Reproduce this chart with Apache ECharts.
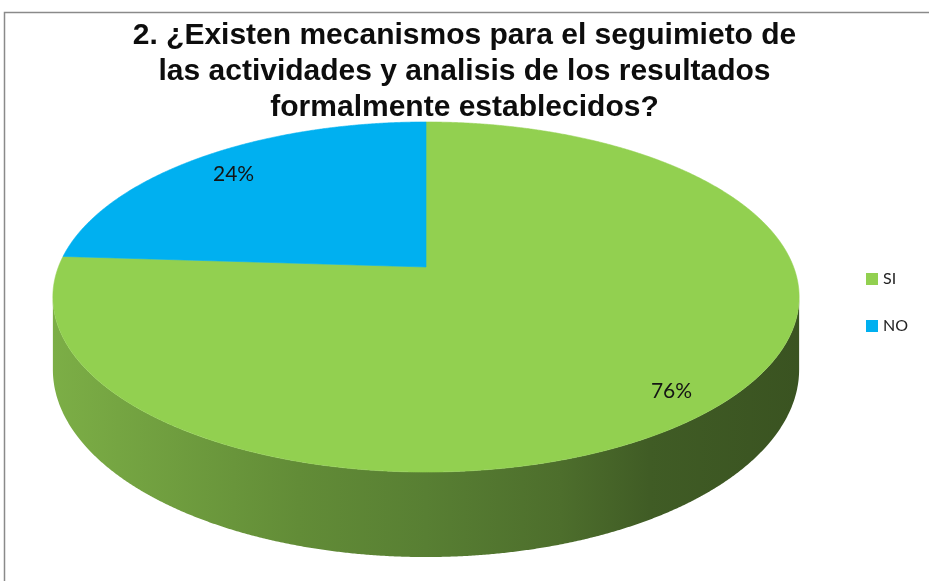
<!DOCTYPE html>
<html>
<head>
<meta charset="utf-8">
<script src="https://cdn.jsdelivr.net/npm/echarts@6/dist/echarts.min.js"></script>
<style>
html,body{margin:0;padding:0;background:#fff;}
#chart{width:929px;height:581px;}
</style>
</head>
<body>
<div id="chart"></div>
<script>
// ---- data ----
const categories = ['SI', 'NO'];
const values = [76, 24];
const titleLines = [
  '2. ¿Existen mecanismos para el seguimieto de',
  'las actividades y analisis de los resultados',
  'formalmente establecidos?'
];

// ---- style ----
const topColors = ['#92d050', '#00b0f0'];
const sideStops = [
  [{offset:0, color:'#7cae46'},{offset:0.33, color:'#628c37'},{offset:0.5, color:'#587f33'},
   {offset:0.68, color:'#4d6e2c'},{offset:0.8, color:'#405c25'},{offset:1, color:'#3a5321'}],
  [{offset:0, color:'#0090c8'},{offset:1, color:'#005a80'}]
];
const G = {cx:426, cy:267, A:367.6, B:169.9, k:0.1715, H:70.4};

const total = values.reduce((a,b)=>a+b,0);
const cumStart = values.map((v,i)=>values.slice(0,i).reduce((a,b)=>a+b,0));
const TWO_PI = Math.PI*2;

function proj(theta, r, dy){
  const u = r*Math.sin(theta), v = -r*Math.cos(theta);
  const w = 1 - G.k*v;
  return [G.cx + G.A*u/w, G.cy + (G.B*v + dy)/w];
}
// silhouette extremes
let thR = 0, thL = 0, xmax = -1e9, xmin = 1e9;
for (let t = 0; t < TWO_PI; t += 0.0005){
  const p = proj(t,1,0);
  if (p[0] > xmax){xmax = p[0]; thR = t;}
  if (p[0] < xmin){xmin = p[0]; thL = t;}
}

function renderSlice(i){
  return function(params, api){
    const a0 = cumStart[i]/total*TWO_PI;
    const a1 = (cumStart[i]+values[i])/total*TWO_PI;
    const children = [];
    const step = 0.004;
    // side wall
    const s = Math.max(a0, thR), e = Math.min(a1, thL);
    if (s < e){
      const pts = [];
      for (let t = s; t < e; t += step) pts.push(proj(t,1,0));
      pts.push(proj(e,1,0));
      for (let t = e; t > s; t -= step) pts.push(proj(t,1,G.H));
      pts.push(proj(s,1,G.H));
      children.push({
        type:'polygon', z2:1, shape:{points:pts},
        style:{fill:{type:'linear', x:xmin, y:0, x2:xmax, y2:0, global:true, colorStops:sideStops[i]}}
      });
    }
    // top face
    const tp = [proj(0,0,0)];
    for (let t = a0; t < a1; t += step) tp.push(proj(t,1,0));
    tp.push(proj(a1,1,0));
    children.push({
      type:'polygon', z2:10, shape:{points:tp},
      style:{fill:topColors[i], stroke:topColors[i], lineWidth:0.6}
    });
    // label
    const mid = (a0+a1)/2;
    const lp = proj(mid, 0.86, 4);
    children.push({
      type:'text', z2:20, x:lp[0] + 3, y:lp[1],
      style:{
        text: Math.round(api.value(0)/total*100) + '%',
        fill:'#141414', fontFamily:'Lato', fontSize:21,
        textAlign:'center', textVerticalAlign:'middle'
      }
    });
    return {type:'group', children};
  };
}

const chart = echarts.init(document.getElementById('chart'), null, {renderer:'canvas'});
chart.setOption({
  animation:false,
  backgroundColor:'#ffffff',
  title:{
    text: titleLines.join('\n'),
    left:'center', top:13,
    textStyle:{fontFamily:'Liberation Sans', fontWeight:'bold', fontSize:30, lineHeight:36, color:'#0d0d0d'}
  },
  legend:{
    data:categories, orient:'vertical', left:861, top:266,
    itemWidth:12, itemHeight:12, itemGap:31, icon:'rect',
    textStyle:{fontFamily:'Lato', fontSize:16, color:'#222'}
  },
  graphic:[{
    type:'rect', shape:{x:4.5, y:12.5, width:1000, height:1000},
    style:{fill:'none', stroke:'#8a8a8a', lineWidth:1.5}, silent:true
  }],
  series: categories.map((name,i)=>({
    type:'custom', name, coordinateSystem:'none',
    itemStyle:{color:topColors[i]},
    data:[[values[i]]],
    renderItem: renderSlice(i)
  }))
});
</script>
</body>
</html>
